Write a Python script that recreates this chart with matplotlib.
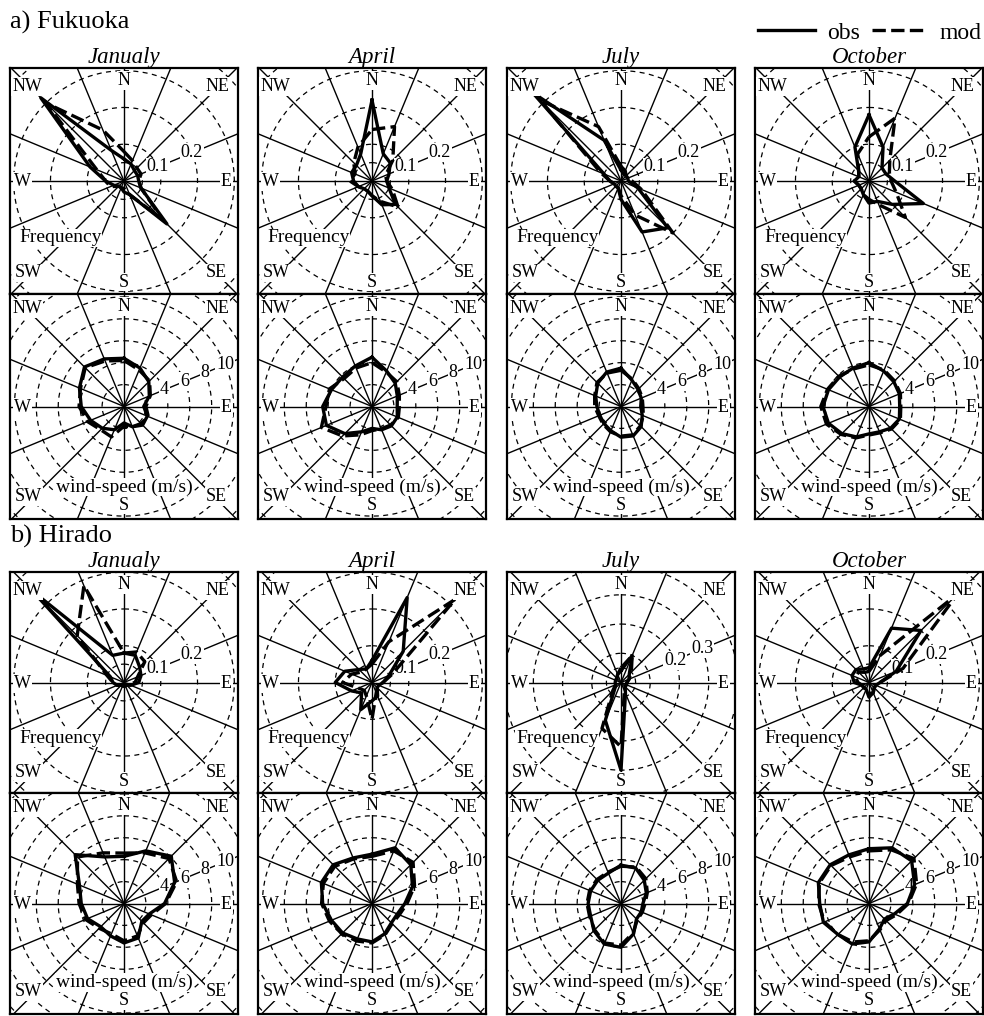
import numpy as np
import matplotlib.pyplot as plt
from matplotlib.lines import Line2D

plt.rcParams['font.family'] = ['Liberation Serif', 'DejaVu Serif']

W_PX, H_PX = 984, 1016

# ---------------------------------------------------------------- data
directions = ['N', 'NNE', 'NE', 'ENE', 'E', 'ESE', 'SE', 'SSE',
              'S', 'SSW', 'SW', 'WSW', 'W', 'WNW', 'NW', 'NNW']
months = ['Janualy', 'April', 'July', 'October']

# frequency of wind direction, one list per month (Jan, Apr, Jul, Oct)
fukuoka_freq_obs = [
    [0.06, 0.05, 0.04, 0.04, 0.04, 0.05, 0.165, 0.04, 0.03, 0.02, 0.02, 0.03, 0.05, 0.10, 0.32, 0.09],
    [0.22, 0.08, 0.07, 0.05, 0.04, 0.05, 0.09, 0.07, 0.04, 0.03, 0.03, 0.04, 0.05, 0.06, 0.06, 0.08],
    [0.03, 0.02, 0.02, 0.02, 0.02, 0.05, 0.18, 0.15, 0.05, 0.02, 0.02, 0.02, 0.03, 0.05, 0.34, 0.12],
    [0.18, 0.10, 0.05, 0.05, 0.07, 0.16, 0.09, 0.06, 0.06, 0.04, 0.03, 0.03, 0.04, 0.03, 0.04, 0.10],
]
fukuoka_freq_mod = [
    [0.08, 0.06, 0.05, 0.05, 0.04, 0.05, 0.15, 0.04, 0.02, 0.02, 0.02, 0.04, 0.05, 0.08, 0.30, 0.15],
    [0.14, 0.16, 0.08, 0.04, 0.04, 0.06, 0.10, 0.06, 0.04, 0.03, 0.03, 0.04, 0.06, 0.05, 0.07, 0.10],
    [0.04, 0.03, 0.02, 0.02, 0.03, 0.06, 0.20, 0.10, 0.04, 0.02, 0.02, 0.02, 0.03, 0.06, 0.31, 0.16],
    [0.12, 0.185, 0.08, 0.06, 0.06, 0.08, 0.14, 0.07, 0.05, 0.04, 0.03, 0.03, 0.04, 0.03, 0.04, 0.08],
]
hirado_freq_obs = [
    [0.08, 0.08, 0.06, 0.05, 0.04, 0.02, 0.01, 0.01, 0.01, 0.01, 0.01, 0.02, 0.03, 0.04, 0.35, 0.08],
    [0.06, 0.25, 0.12, 0.05, 0.03, 0.02, 0.02, 0.04, 0.05, 0.08, 0.04, 0.06, 0.10, 0.08, 0.05, 0.04],
    [0.04, 0.10, 0.04, 0.03, 0.02, 0.02, 0.02, 0.04, 0.30, 0.14, 0.03, 0.02, 0.02, 0.02, 0.02, 0.03],
    [0.04, 0.16, 0.20, 0.08, 0.03, 0.02, 0.02, 0.03, 0.04, 0.02, 0.02, 0.02, 0.04, 0.05, 0.05, 0.04],
]
hirado_freq_mod = [
    [0.08, 0.09, 0.08, 0.04, 0.03, 0.01, 0.01, 0.01, 0.01, 0.01, 0.01, 0.02, 0.03, 0.05, 0.18, 0.285],
    [0.05, 0.12, 0.32, 0.06, 0.03, 0.02, 0.02, 0.03, 0.10, 0.04, 0.03, 0.04, 0.08, 0.06, 0.04, 0.04],
    [0.05, 0.10, 0.05, 0.03, 0.02, 0.02, 0.02, 0.03, 0.22, 0.17, 0.04, 0.02, 0.02, 0.02, 0.02, 0.03],
    [0.03, 0.08, 0.34, 0.10, 0.03, 0.02, 0.02, 0.03, 0.03, 0.02, 0.02, 0.02, 0.03, 0.04, 0.04, 0.03],
]

# mean wind speed (m/s) by direction
fukuoka_ws_obs = [
    [4.4, 3.8, 3.2, 2.5, 1.8, 2.3, 2.4, 2.0, 1.5, 2.3, 2.8, 3.3, 3.9, 4.4, 5.1, 4.7],
    [4.5, 3.5, 3.0, 2.5, 2.3, 2.5, 2.5, 2.3, 2.0, 2.5, 3.5, 4.5, 4.5, 4.0, 3.8, 4.0],
    [3.5, 2.6, 2.2, 2.0, 1.8, 2.1, 2.6, 2.9, 2.8, 2.4, 2.2, 2.1, 2.2, 2.5, 3.0, 3.4],
    [4.0, 3.5, 3.2, 3.0, 2.8, 3.0, 2.8, 2.5, 2.5, 3.0, 3.5, 4.0, 4.2, 4.0, 3.8, 3.8],
]
fukuoka_ws_mod = [
    [4.2, 3.6, 3.3, 2.6, 2.0, 2.4, 2.2, 2.0, 1.8, 3.0, 3.0, 3.6, 4.1, 4.3, 5.0, 4.5],
    [4.0, 3.4, 3.2, 2.7, 2.5, 2.6, 2.4, 2.2, 2.2, 2.8, 3.8, 5.0, 4.2, 4.2, 3.6, 3.8],
    [3.3, 2.7, 2.3, 2.1, 2.0, 2.2, 2.5, 2.8, 2.7, 2.5, 2.3, 2.2, 2.4, 2.6, 3.1, 3.3],
    [3.8, 3.6, 3.3, 3.1, 2.9, 3.1, 2.9, 2.6, 2.6, 3.1, 3.6, 4.2, 4.4, 4.1, 3.9, 3.7],
]
hirado_ws_obs = [
    [4.3, 5.2, 6.1, 5.0, 3.7, 2.5, 2.3, 3.4, 3.6, 3.2, 3.0, 3.6, 3.9, 4.4, 6.3, 4.6],
    [4.5, 5.5, 5.0, 4.0, 3.0, 2.5, 2.5, 3.0, 3.5, 3.5, 3.8, 4.0, 4.5, 5.0, 5.0, 4.5],
    [3.5, 3.5, 3.0, 2.5, 2.0, 2.0, 2.0, 3.0, 4.0, 4.0, 3.5, 3.0, 3.0, 3.0, 3.0, 3.0],
    [5.0, 5.5, 5.5, 4.5, 3.5, 2.5, 2.0, 2.5, 3.5, 4.0, 4.0, 4.5, 4.5, 5.0, 5.0, 4.8],
]
hirado_ws_mod = [
    [4.6, 5.0, 5.8, 5.2, 3.8, 2.7, 2.5, 3.2, 3.4, 3.0, 3.2, 3.8, 4.1, 4.6, 6.0, 5.0],
    [4.3, 5.2, 5.3, 4.2, 3.2, 2.7, 2.6, 3.1, 3.6, 3.7, 3.9, 4.2, 4.6, 4.8, 4.8, 4.4],
    [3.4, 3.6, 3.2, 2.6, 2.2, 2.1, 2.1, 2.9, 3.8, 3.9, 3.4, 3.1, 3.1, 3.1, 3.1, 3.1],
    [4.8, 5.3, 5.8, 4.7, 3.6, 2.7, 2.2, 2.6, 3.4, 3.8, 4.0, 4.4, 4.6, 4.9, 4.9, 4.6],
]

# radial extent (half width of a panel, data units) and labelled rings
freq_half = [[0.31, 0.31, 0.31, 0.31], [0.31, 0.31, 0.39, 0.31]]
freq_ring_labels = [[(0.1, 0.2)] * 4, [(0.1, 0.2), (0.1, 0.2), (0.2, 0.3), (0.1, 0.2)]]
ws_half = 10.4
ws_rings = [2, 4, 6, 8, 10, 12, 14]
ws_ring_labels = [4, 6, 8, 10]

# ---------------------------------------------------------------- layout (pixels)
col_left = [10, 258, 507, 755]
col_width = 228
site_rows = [  # (title, title baseline, freq top, freq height, ws top, ws height)
    ('a) Fukuoka', 29, 68, 226, 294, 225),
    ('b) Hirado', 543, 572, 221, 793, 221),
]

fig = plt.figure(figsize=(W_PX / 100, H_PX / 100), dpi=100)


def px_axes(left, top, width, height):
    ax = fig.add_axes([left / W_PX, 1 - (top + height) / H_PX, width / W_PX, height / H_PX])
    ax.set_xticks([])
    ax.set_yticks([])
    for s in ax.spines.values():
        s.set_linewidth(1.6)
    return ax


theta = np.deg2rad(np.arange(16) * 22.5)
phi = np.linspace(0, 2 * np.pi, 361)
label_box = dict(facecolor='white', edgecolor='none', pad=0.6)


def closed_xy(values):
    v = np.append(values, values[0])
    t = np.append(theta, theta[0])
    return v * np.sin(t), v * np.cos(t)


def compass(ax, corner_y, bottom_y, side_y):
    kw = dict(fontsize=13, ha='center', va='center', transform=ax.transAxes,
              bbox=label_box, zorder=6)
    ax.text(0.5, 0.945, 'N', **kw)
    ax.text(0.075, corner_y, 'NW', **kw)
    ax.text(0.91, corner_y, 'NE', **kw)
    ax.text(0.055, 0.497, 'W', **kw)
    ax.text(0.948, 0.497, 'E', **kw)
    ax.text(0.08, bottom_y, 'SW', **kw)
    ax.text(0.905, bottom_y, 'SE', **kw)
    ax.text(0.5, side_y, 'S', **kw)


def draw_rose(ax, obs, mod, half, rings, ring_labels, ring_fmt, w, h):
    ax.set_xlim(-half, half)
    ax.set_ylim(-half * h / w, half * h / w)
    far = half * 3
    for t in theta:
        ax.plot([0, far * np.sin(t)], [0, far * np.cos(t)], color='k', lw=1.0, zorder=1)
    for r in rings:
        ax.plot(r * np.sin(phi), r * np.cos(phi), color='k', lw=0.9,
                ls=(0, (4, 3.5)), zorder=1)
    ang = np.deg2rad(67.5)
    for r in ring_labels:
        ax.text(r * np.sin(ang), r * np.cos(ang), ring_fmt(r), fontsize=13,
                ha='center', va='center', bbox=label_box, zorder=3)
    x, y = closed_xy(obs)
    ax.plot(x, y, color='k', lw=2.4, zorder=4, solid_joinstyle='round')
    x, y = closed_xy(mod)
    ax.plot(x, y, color='k', lw=2.4, ls=(0, (4, 1.6)), zorder=4, dash_joinstyle='round')


freq_data = [(fukuoka_freq_obs, fukuoka_freq_mod), (hirado_freq_obs, hirado_freq_mod)]
ws_data = [(fukuoka_ws_obs, fukuoka_ws_mod), (hirado_ws_obs, hirado_ws_mod)]

for si, (title, t_base, f_top, f_h, w_top, w_h) in enumerate(site_rows):
    fig.text(col_left[0] / W_PX, 1 - t_base / H_PX, title, fontsize=19, va='baseline')
    for mi, month in enumerate(months):
        left = col_left[mi]
        fig.text((left + col_width / 2) / W_PX, 1 - (f_top - 5) / H_PX, month,
                 fontsize=16.5, style='italic', ha='center', va='baseline')

        # direction frequency
        ax = px_axes(left, f_top, col_width, f_h)
        half = freq_half[si][mi]
        draw_rose(ax, freq_data[si][0][mi], freq_data[si][1][mi], half,
                  [0.05, 0.1, 0.2, 0.3, 0.4], freq_ring_labels[si][mi],
                  lambda r: f'{r:.1f}', col_width, f_h)
        compass(ax, 0.918, 0.093, 0.053)
        ax.text(0.22, 0.248, 'Frequency', fontsize=14, ha='center', va='center',
                transform=ax.transAxes, bbox=label_box, zorder=6)

        # wind speed
        ax = px_axes(left, w_top, col_width, w_h)
        draw_rose(ax, ws_data[si][0][mi], ws_data[si][1][mi], ws_half,
                  ws_rings, ws_ring_labels, lambda r: f'{r:d}', col_width, w_h)
        compass(ax, 0.935, 0.1, 0.062)
        ax.text(0.5, 0.142, 'wind-speed (m/s)', fontsize=14, ha='center', va='center',
                transform=ax.transAxes, bbox=label_box, zorder=6)

handles = [Line2D([], [], color='k', lw=2.4),
           Line2D([], [], color='k', lw=2.4, ls=(0, (4, 1.6)))]
fig.legend(handles, ['obs', 'mod'], ncol=2, loc='center right',
           bbox_to_anchor=(982 / W_PX, 1 - 33 / H_PX), frameon=False, fontsize=17,
           handlelength=2.4, handletextpad=0.5, columnspacing=0.5,
           borderpad=0, borderaxespad=0)

fig.savefig('out.png', dpi=100)
